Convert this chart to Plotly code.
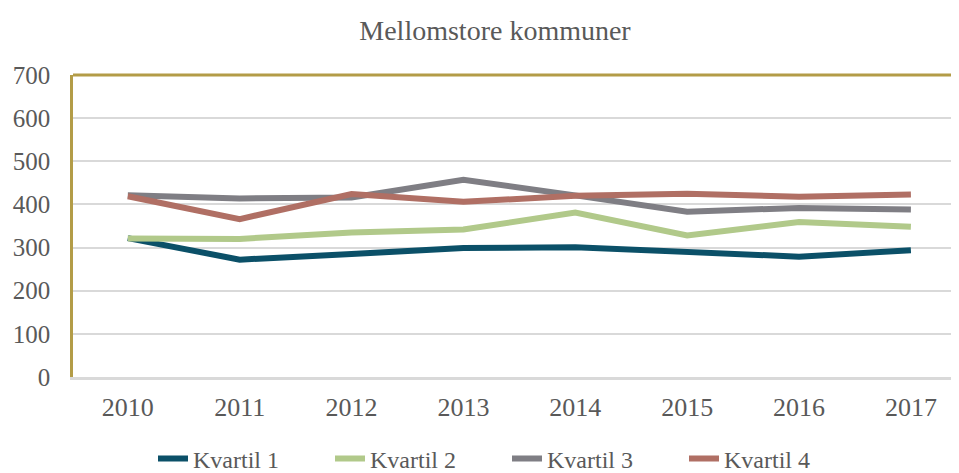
import plotly.graph_objects as go

years = ["2010", "2011", "2012", "2013", "2014", "2015", "2016", "2017"]
kvartil1 = [322, 272, 285, 299, 301, 290, 279, 294]
kvartil2 = [321, 320, 335, 342, 381, 328, 359, 348]
kvartil3 = [421, 414, 416, 457, 421, 383, 392, 388]
kvartil4 = [419, 366, 424, 406, 420, 425, 418, 423]
series_names = ["Kvartil 1", "Kvartil 2", "Kvartil 3", "Kvartil 4"]
colors = ["#0B5068", "#B1C98A", "#7F7E84", "#B06F64"]
y_ticks = [0, 100, 200, 300, 400, 500, 600, 700]

font_family = "Liberation Serif"
text_color = "#595959"

W, H = 951, 465  # page body has an 8px margin

fig = go.Figure()
for name, vals, col in zip(series_names, [kvartil1, kvartil2, kvartil3, kvartil4], colors):
    fig.add_trace(go.Scatter(
        x=list(range(len(years))), y=vals, name=name, mode="lines",
        line=dict(color=col, width=6), hoverinfo="skip",
    ))

fig.update_layout(
    width=W, height=H,
    margin=dict(l=65, r=0, t=67, b=96, autoexpand=False),
    paper_bgcolor="white", plot_bgcolor="white",
    font=dict(family=font_family, color=text_color, size=26),
    title=dict(text="Mellomstore kommuner", x=487 / W, xanchor="center", xref="container",
               y=1 - 22 / H, yanchor="middle", yref="container",
               font=dict(family=font_family, size=28, color=text_color)),
    showlegend=True,
    legend=dict(orientation="h", x=499 / W, xanchor="center", xref="container",
                y=1 - 451 / H, yanchor="middle", yref="container",
                entrywidth=132, entrywidthmode="pixels",
                font=dict(family=font_family, size=24, color=text_color),
                itemclick=False, itemdoubleclick=False),
)
fig.update_xaxes(
    tickmode="array", tickvals=list(range(len(years))), ticktext=years,
    range=[-0.49, 7.43], showgrid=False, zeroline=False, tickangle=0,
    showline=True, linecolor="#D9D9D9", linewidth=2.5, ticks="",
    ticklabelstandoff=5, automargin=False,
)
fig.update_yaxes(
    tickmode="array", tickvals=y_ticks, range=[0, 700],
    showgrid=True, gridcolor="#D9D9D9", gridwidth=1.5, zeroline=False,
    showline=True, linecolor="#B39C47", linewidth=2.5, ticks="",
    ticklabelstandoff=15, automargin=False, tickfont=dict(size=25),
)
fig.add_shape(type="line", xref="paper", yref="paper", x0=0, x1=1, y0=1, y1=1,
              line=dict(color="#B39C47", width=3), layer="above")

fig.write_html("out.html")
